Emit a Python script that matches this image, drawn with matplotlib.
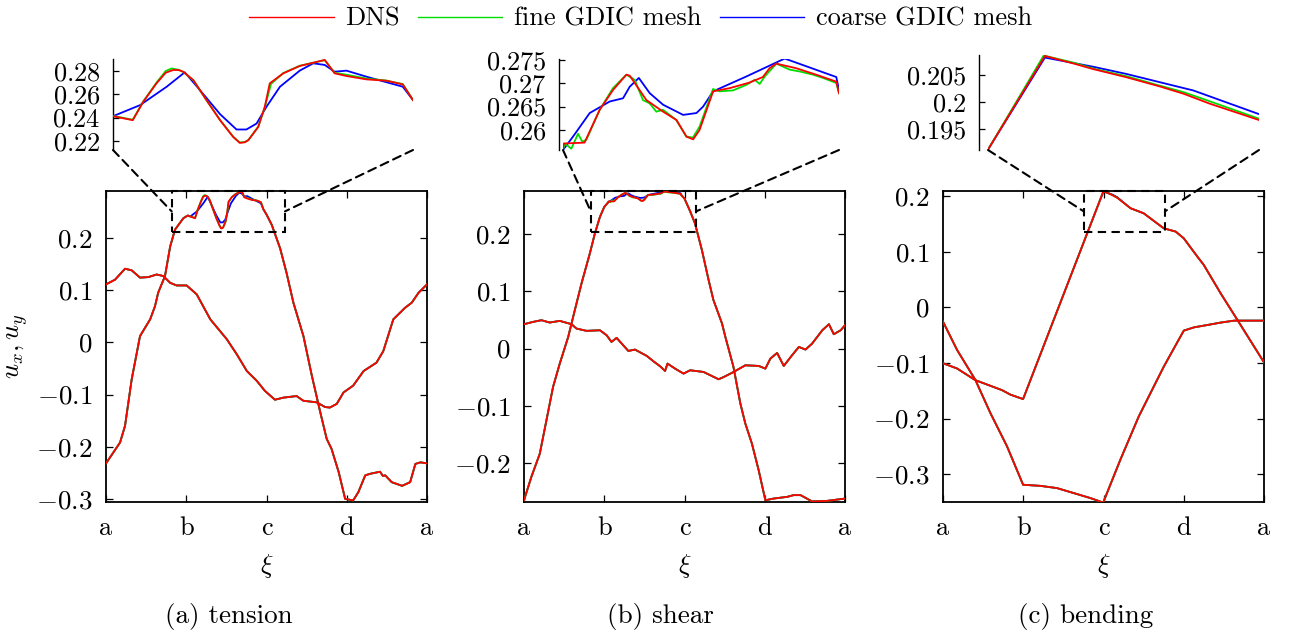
import numpy as np
import matplotlib
matplotlib.use("Agg")
import matplotlib.pyplot as plt
from matplotlib.patches import ConnectionPatch, Rectangle
from matplotlib.lines import Line2D

plt.rcParams.update({
    "font.family": "serif",
    "font.serif": ["cmr10"],
    "mathtext.fontset": "cm",
    "font.size": 19,
    "axes.formatter.use_mathtext": True,
})

# ---------------- data ----------------
xtick_labels = ["a", "b", "c", "d", "a"]
series_names = ["DNS", "fine GDIC mesh", "coarse GDIC mesh"]
series_colors = ["#ff0000", "#00dd00", "#0000ff"]
captions = ["(a) tension", "(b) shear", "(c) bending"]

# ---- (a) tension ----
a_ux_pre_x = [0.0, 0.175, 0.237, 0.32, 0.424, 0.55, 0.61, 0.65, 0.735, 0.8, 0.86, 0.965, 1.02]
a_ux_pre = [-0.232, -0.192, -0.160, -0.071, 0.012, 0.044, 0.069, 0.095, 0.127, 0.184, 0.216, 0.238, 0.243]
a_ux_dns_x = [1.05, 1.11, 1.142, 1.182, 1.21, 1.233, 1.25, 1.263, 1.294, 1.334, 1.375, 1.415, 1.435, 1.45,
              1.461, 1.491, 1.511, 1.526, 1.567, 1.617, 1.693, 1.723, 1.759, 1.82, 1.88, 1.93, 1.961]
a_ux_dns = [0.2412, 0.2378, 0.2536, 0.2694, 0.2785, 0.2809, 0.2808, 0.2794, 0.2722, 0.2550, 0.2378, 0.2234,
            0.2183, 0.2188, 0.2206, 0.2320, 0.2493, 0.2694, 0.2780, 0.2843, 0.2895, 0.2780, 0.2757, 0.2728,
            0.2717, 0.2685, 0.2550]
a_ux_fine_x = [1.05, 1.11, 1.142, 1.182, 1.21, 1.228, 1.25, 1.263, 1.294, 1.334, 1.375, 1.415, 1.435, 1.45,
               1.461, 1.491, 1.511, 1.53, 1.567, 1.617, 1.693, 1.723, 1.759, 1.82, 1.88, 1.93, 1.961]
a_ux_fine = [0.2414, 0.2382, 0.2540, 0.2700, 0.2800, 0.2822, 0.2810, 0.2792, 0.2720, 0.2548, 0.2380, 0.2236,
             0.2187, 0.2190, 0.2208, 0.2322, 0.2490, 0.2690, 0.2782, 0.2845, 0.2893, 0.2785, 0.2768, 0.2735,
             0.2718, 0.2688, 0.2552]
a_ux_coarse_x = [1.05, 1.132, 1.213, 1.268, 1.314, 1.375, 1.425, 1.455, 1.486, 1.516, 1.557, 1.617, 1.658,
                 1.693, 1.723, 1.759, 1.82, 1.93, 1.961]
a_ux_coarse = [0.2412, 0.2507, 0.2665, 0.2789, 0.2636, 0.2430, 0.2298, 0.2298, 0.2349, 0.2493, 0.2665, 0.2803,
               0.2866, 0.2852, 0.2794, 0.2803, 0.2751, 0.2665, 0.2550]
a_ux_post_x = [2.0, 2.066, 2.17, 2.25, 2.335, 2.46, 2.565, 2.67, 2.75, 2.81, 2.9, 2.98, 3.08, 3.145, 3.23,
               3.29, 3.415, 3.45, 3.48, 3.56, 3.69, 3.79, 3.855, 3.92, 4.0]
a_ux_post = [0.245, 0.225, 0.180, 0.133, 0.076, 0.012, -0.064, -0.134, -0.185, -0.204, -0.249, -0.300, -0.303,
             -0.287, -0.255, -0.252, -0.248, -0.256, -0.255, -0.268, -0.275, -0.268, -0.233, -0.230, -0.232]
a_uy_x = [0.0, 0.112, 0.237, 0.32, 0.424, 0.528, 0.632, 0.714, 0.8, 0.88, 1.005, 1.13, 1.3, 1.505, 1.63,
          1.755, 1.88, 1.98, 2.105, 2.21, 2.375, 2.46, 2.625, 2.73, 2.79, 2.875, 2.96, 3.08, 3.21, 3.37,
          3.455, 3.58, 3.725, 3.81, 3.895, 4.0]
a_uy = [0.111, 0.120, 0.141, 0.138, 0.124, 0.125, 0.130, 0.127, 0.114, 0.109, 0.109, 0.092, 0.044, 0.006,
        -0.023, -0.055, -0.074, -0.093, -0.110, -0.106, -0.103, -0.112, -0.115, -0.124, -0.125, -0.118,
        -0.096, -0.083, -0.055, -0.039, -0.017, 0.044, 0.066, 0.076, 0.095, 0.111]

# ---- (b) shear ----
b_ux_pre_x = [0.0, 0.092, 0.196, 0.28, 0.362, 0.446, 0.55, 0.633, 0.717, 0.82, 0.883, 0.946, 1.0]
b_ux_pre = [-0.265, -0.224, -0.184, -0.125, -0.067, -0.026, 0.020, 0.067, 0.114, 0.166, 0.201, 0.230, 0.2475]
b_ux_dns_x = [1.05, 1.052, 1.121, 1.171, 1.215, 1.259, 1.27, 1.325, 1.38, 1.424, 1.457, 1.479, 1.5, 1.545,
              1.6, 1.665, 1.709, 1.731, 1.753, 1.819, 1.885, 1.951, 1.96]
b_ux_dns = [0.2556, 0.2570, 0.2572, 0.2643, 0.2686, 0.2719, 0.2717, 0.2664, 0.2639, 0.2621, 0.2585, 0.2579,
            0.2599, 0.2683, 0.2690, 0.2702, 0.2714, 0.2733, 0.2743, 0.2733, 0.2719, 0.2704, 0.2679]
b_ux_fine_x = [1.05, 1.0555, 1.0775, 1.0995, 1.1137, 1.1269, 1.1709, 1.2149, 1.2588, 1.2863, 1.3138, 1.3357,
               1.3577, 1.3797, 1.4017, 1.4237, 1.4566, 1.4786, 1.5006, 1.5446, 1.5665, 1.6105, 1.6545,
               1.6819, 1.6984, 1.7149, 1.7534, 1.7973, 1.8303, 1.8743, 1.9072, 1.9512, 1.96]
b_ux_fine = [0.2556, 0.2570, 0.2559, 0.2591, 0.2574, 0.2578, 0.2643, 0.2690, 0.2719, 0.2708, 0.2664, 0.2657,
             0.2639, 0.2643, 0.2632, 0.2621, 0.2585, 0.2583, 0.2607, 0.2688, 0.2683, 0.2685, 0.2697, 0.2708,
             0.2699, 0.2715, 0.2743, 0.2730, 0.2726, 0.2719, 0.2712, 0.2701, 0.2679]
b_ux_coarse_x = [1.05, 1.083, 1.138, 1.204, 1.248, 1.27, 1.3, 1.336, 1.38, 1.446, 1.49, 1.512, 1.545, 1.654,
                 1.781, 1.951, 1.96]
b_ux_coarse = [0.2556, 0.2585, 0.2636, 0.2661, 0.2668, 0.2693, 0.2712, 0.2679, 0.2654, 0.2632, 0.2636, 0.2650,
               0.2683, 0.2715, 0.2754, 0.2714, 0.2686]
b_ux_post_x = [2.0, 2.07, 2.13, 2.217, 2.3, 2.36, 2.467, 2.51, 2.61, 2.696, 2.758, 2.84, 2.925, 3.008, 3.11,
               3.28, 3.36, 3.446, 3.59, 3.78, 4.0]
b_ux_post = [0.262, 0.240, 0.219, 0.172, 0.120, 0.085, 0.044, 0.020, -0.032, -0.096, -0.131, -0.166, -0.213,
             -0.265, -0.262, -0.259, -0.256, -0.256, -0.267, -0.266, -0.262]
b_uy_x = [0.0, 0.112, 0.217, 0.32, 0.446, 0.592, 0.654, 0.78, 0.946, 1.03, 1.09, 1.154, 1.3, 1.383, 1.53,
          1.613, 1.696, 1.758, 1.788, 1.883, 1.988, 2.07, 2.237, 2.425, 2.49, 2.612, 2.758, 2.925, 3.008,
          3.07, 3.154, 3.237, 3.34, 3.425, 3.508, 3.59, 3.717, 3.8, 3.86, 3.946, 4.0]
b_uy = [0.0426, 0.0466, 0.0496, 0.0455, 0.0484, 0.0426, 0.035, 0.031, 0.032, 0.0233, 0.0117, 0.0187,
        -0.0041, -0.0017, -0.0128, -0.0222, -0.0309, -0.0391, -0.0262, -0.035, -0.0437, -0.0379, -0.0408,
        -0.0536, -0.0496, -0.0408, -0.0292, -0.0303, -0.035, -0.0175, -0.0076, -0.0303, -0.0117, 0.0029,
        -0.0017, 0.0087, 0.032, 0.0426, 0.0251, 0.032, 0.0408]

# ---- (c) bending ----
c_ux_pre_x = [0.0, 0.175, 0.403, 0.57, 0.736, 0.84, 0.998]
c_ux_pre = [-0.1006, -0.110, -0.131, -0.140, -0.149, -0.157, -0.165]
c_ux_dns_x = [1.953, 1.999, 2.022, 2.038, 2.065, 2.092, 2.111, 2.132, 2.172]
c_ux_dns = [0.19127, 0.20843, 0.20705, 0.20602, 0.20452, 0.20283, 0.20151, 0.1997, 0.19669]
c_ux_fine_x = [1.953, 1.998, 2.022, 2.04, 2.065, 2.09, 2.111, 2.13, 2.172]
c_ux_fine = [0.19127, 0.2085, 0.2072, 0.2060, 0.2047, 0.2031, 0.2018, 0.2003, 0.19693]
c_ux_coarse_x = [1.953, 1.999, 2.038, 2.065, 2.092, 2.119, 2.172]
c_ux_coarse = [0.19127, 0.20813, 0.20645, 0.20512, 0.20361, 0.2021, 0.19777]
c_ux_post_x = [2.337, 2.5, 2.75, 2.9, 3.0, 3.17, 3.25, 3.46, 3.67, 4.0]
c_ux_post = [0.178, 0.169, 0.142, 0.136, 0.124, 0.091, 0.076, 0.025, -0.023, -0.099]
c_uy_x = [0.0, 0.175, 0.403, 0.59, 0.798, 0.998, 1.214, 1.42, 1.63, 1.838, 1.996, 2.21, 2.44, 2.75, 3.0,
          3.13, 3.29, 3.46, 3.63, 4.0]
c_uy = [-0.0257, -0.0766, -0.1305, -0.190, -0.250, -0.319, -0.321, -0.325, -0.334, -0.343, -0.351, -0.274,
        -0.196, -0.107, -0.042, -0.036, -0.032, -0.0275, -0.024, -0.024]

# axis settings per panel
main_ylims = [(-0.306, 0.29), (-0.268, 0.2753), (-0.35, 0.209)]
main_yticks = [[-0.3, -0.2, -0.1, 0.0, 0.1, 0.2], [-0.2, -0.1, 0.0, 0.1, 0.2],
               [-0.3, -0.2, -0.1, 0.0, 0.1, 0.2]]
inset_ylims = [(0.2122, 0.2903), (0.2556, 0.2753), (0.1912, 0.2086)]
inset_yticks = [[0.22, 0.24, 0.26, 0.28], [0.26, 0.265, 0.27, 0.275], [0.195, 0.2, 0.205]]
inset_ticklabels = [["0.22", "0.24", "0.26", "0.28"], ["0.26", "0.265", "0.27", "0.275"],
                    ["0.195", "0.2", "0.205"]]
rect_x = [(0.2046, 0.5576), (0.208, 0.536), (0.4385, 0.6916)]

panels = [
    (a_ux_pre_x, a_ux_pre, [(a_ux_dns_x, a_ux_dns), (a_ux_fine_x, a_ux_fine), (a_ux_coarse_x, a_ux_coarse)],
     a_ux_post_x, a_ux_post, a_uy_x, a_uy),
    (b_ux_pre_x, b_ux_pre, [(b_ux_dns_x, b_ux_dns), (b_ux_fine_x, b_ux_fine), (b_ux_coarse_x, b_ux_coarse)],
     b_ux_post_x, b_ux_post, b_uy_x, b_uy),
    (c_ux_pre_x, c_ux_pre, [(c_ux_dns_x, c_ux_dns), (c_ux_fine_x, c_ux_fine), (c_ux_coarse_x, c_ux_coarse)],
     c_ux_post_x, c_ux_post, c_uy_x, c_uy),
]

# ---------------- layout ----------------
W, H = 1289, 639
fig = plt.figure(figsize=(W / 100, H / 100), dpi=100)

main_left_px = [106, 524, 943]
main_w_px = 321
main_top_px, main_bot_px = 191, 502
inset_left_px = [113, 563, 988]
inset_w_px = [300, 276, 271]
inset_top_px = [59, 59, 55]
inset_bot_px = 150
inset_spine_offset = [0, 3, 6.5]
caption_cx_px = [229, 660, 1086]

LW = 1.3


def fmt(v):
    s = "%g" % v
    if s == "-0":
        s = "0"
    return "$" + s + "$"


for i, (prx, pry, zooms, pox, poy, uyx, uy) in enumerate(panels):
    ax = fig.add_axes([main_left_px[i] / W, 1 - main_bot_px / H, main_w_px / W,
                       (main_bot_px - main_top_px) / H])
    # draw coarse, fine, then DNS on top
    for k in [2, 1, 0]:
        zx, zy = zooms[k]
        xs = list(prx) + list(zx) + list(pox)
        ys = list(pry) + list(zy) + list(poy)
        ax.plot(xs, ys, color=series_colors[k], lw=LW, zorder=2 + (2 - k))
        ax.plot(uyx, uy, color=series_colors[k], lw=LW, zorder=2 + (2 - k))
    ax.set_xlim(0, 4)
    ax.set_ylim(*main_ylims[i])
    ax.set_xticks(range(5))
    ax.set_xticklabels(xtick_labels)
    ax.set_yticks(main_yticks[i])
    ax.set_yticklabels([fmt(v) for v in main_yticks[i]], fontsize=19.5)
    ax.tick_params(direction="in", top=True, right=True, length=5, width=0.9, pad=10)
    ax.tick_params(axis="x", pad=10)
    for sp in ax.spines.values():
        sp.set_linewidth(1.3)
    ax.set_xlabel(r"$\xi$", labelpad=9)
    if i == 0:
        ax.set_ylabel(r"$u_x, u_y$", labelpad=4)

    # dashed zoom rectangle
    x0, x1 = rect_x[i]
    dash = (0, (4, 2.6))
    rect = Rectangle((x0, 0.869), x1 - x0, 1 - 0.869, transform=ax.transAxes, fill=False,
                     edgecolor="black", lw=1.5, linestyle=dash, zorder=6, clip_on=False)
    ax.add_patch(rect)

    # inset
    ins = fig.add_axes([inset_left_px[i] / W, 1 - inset_bot_px / H, inset_w_px[i] / W,
                        (inset_bot_px - inset_top_px[i]) / H])
    for k in [2, 1, 0]:
        zx, zy = zooms[k]
        ins.plot(zx, zy, color=series_colors[k], lw=LW, zorder=2 + (2 - k))
    ins.set_xlim(zooms[0][0][0], zooms[0][0][-1])
    ins.set_ylim(*inset_ylims[i])
    ins.set_yticks(inset_yticks[i])
    ins.set_yticklabels(["$" + t + "$" for t in inset_ticklabels[i]], fontsize=19.5)
    ins.set_xticks([])
    for s in ["top", "right", "bottom"]:
        ins.spines[s].set_visible(False)
    ins.spines["left"].set_linewidth(1.0)
    ins.spines["left"].set_position(("outward", inset_spine_offset[i]))
    ins.tick_params(axis="y", direction="in", length=4, width=0.9, pad=9)
    ins.patch.set_alpha(0)

    ymid = (0.869 + 1.0) / 2
    for (xa, xb) in [(0, x0), (1, x1)]:
        con = ConnectionPatch(xyA=(xa, 0), coordsA=ins.transAxes, xyB=(xb, ymid), coordsB=ax.transAxes,
                              color="black", lw=1.5, linestyle=dash, zorder=6)
        fig.add_artist(con)

    fig.text(caption_cx_px[i] / W, 1 - 617 / H, captions[i], ha="center", va="center", fontsize=19.5)

handles = [Line2D([], [], color=c, lw=1.0) for c in series_colors]
fig.legend(handles, series_names, loc="upper center", bbox_to_anchor=(0.497, 1.026), ncol=3, frameon=False,
           handlelength=3.2, handletextpad=0.45, columnspacing=0.68, fontsize=19)

fig.savefig("out.png", dpi=100)
